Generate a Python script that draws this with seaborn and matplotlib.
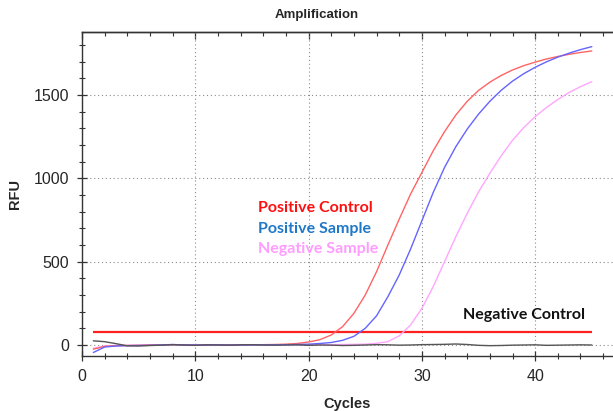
import numpy as np
import pandas as pd
import matplotlib
matplotlib.use('Agg')
import matplotlib.pyplot as plt
from matplotlib.ticker import MultipleLocator
import seaborn as sns

# Cycle numbers and RFU values
cycles = list(range(1, 46))

positive_control = [-25, -8, -4, -3, -2, 0, 0, 2, 0, 0,
                    0, 1, 0, 0, 1, 2, 3, 5, 9, 18,
                    32, 60, 110, 190, 300, 440, 600, 755, 905, 1035,
                    1165, 1280, 1380, 1462, 1527, 1577, 1617, 1650, 1676, 1697,
                    1716, 1731, 1744, 1755, 1764]

positive_sample = [-45, -12, -6, -4, -3, -2, 0, 3, 0, 0,
                   0, 1, 0, 0, 0, 1, 1, 2, 3, 5,
                   9, 15, 28, 52, 100, 175, 290, 420, 575, 745,
                   915, 1065, 1190, 1295, 1385, 1462, 1528, 1583, 1628, 1666,
                   1699, 1727, 1751, 1772, 1790]

negative_sample = [-20, -6, -3, -2, -1, 0, 0, 1, 0, 0,
                   0, 0, 0, 0, 0, 0, 0, 1, 1, 1,
                   2, 2, 3, 4, 5, 10, 20, 55, 120, 220,
                   350, 500, 650, 790, 918, 1030, 1135, 1228, 1305, 1370,
                   1425, 1473, 1515, 1550, 1580]

negative_control = [25, 20, 8, -5, -6, -3, -1, 2, 0, -2,
                    1, 0, -1, 1, 2, 0, -1, 0, 1, -2,
                    0, -1, -3, -2, 0, 2, 1, -1, 0, 2,
                    3, 4, 6, 3, -2, -4, -3, -1, 0, 1,
                    -2, -1, 0, 1, 0]

threshold = 80

df = pd.DataFrame({
    'Cycle': cycles,
    'Negative Sample': negative_sample,
    'Positive Control': positive_control,
    'Positive Sample': positive_sample,
    'Negative Control': negative_control,
})
long_df = df.melt(id_vars='Cycle', var_name='Well', value_name='RFU')

palette = {
    'Negative Sample': '#ffa6ff',
    'Positive Control': '#ff6464',
    'Positive Sample': '#6464ff',
    'Negative Control': '#555555',
}

sns.set_style('ticks')
plt.rcParams['font.family'] = ['Liberation Sans', 'DejaVu Sans']

fig = plt.figure(figsize=(6.13, 4.11), dpi=100)
ax = fig.add_axes([82 / 613, 55 / 411, 1 - 82 / 613, (356 - 32.3) / 411])

sns.lineplot(data=long_df, x='Cycle', y='RFU', hue='Well', palette=palette,
             linewidth=1.0, legend=False, ax=ax)

# threshold line
ax.hlines(threshold, cycles[0], cycles[-1], color='#ff2020', linewidth=1.6, zorder=1)

ax.set_xlim(0, 46.87)
ax.set_ylim(-66, 1876)
ax.xaxis.set_major_locator(MultipleLocator(10))
ax.xaxis.set_minor_locator(MultipleLocator(2))
ax.yaxis.set_major_locator(MultipleLocator(500))
ax.yaxis.set_minor_locator(MultipleLocator(100))

ax.grid(True, which='major', color='#8c8c8c', linestyle=(0, (1, 2.5)), linewidth=0.8)
ax.set_axisbelow(True)

ax.spines['right'].set_visible(False)
for s in ['left', 'bottom', 'top']:
    ax.spines[s].set_linewidth(1.0)
    ax.spines[s].set_color('#333333')

ax.tick_params(axis='both', which='major', direction='inout', length=7, width=0.9,
               labelsize=11.5, pad=6, color='#333333')
ax.tick_params(axis='both', which='minor', direction='inout', length=4.5, width=0.8,
               color='#333333')

# inward ticks along the top edge
top = ax.secondary_xaxis('top')
top.xaxis.set_major_locator(MultipleLocator(10))
top.xaxis.set_minor_locator(MultipleLocator(2))
top.tick_params(which='major', direction='in', length=5, width=0.9, color='#333333',
                labeltop=False)
top.tick_params(which='minor', direction='in', length=3, width=0.8, color='#333333')
top.spines['top'].set_linewidth(1.0)
top.spines['top'].set_color('#333333')

ax.set_xlabel('Cycles', fontsize=10.5, fontweight='bold', labelpad=9)
ax.set_ylabel('RFU', fontsize=10.5, fontweight='bold', labelpad=8)

fig.text(317 / 613, 1 - 15 / 411, 'Amplification', ha='center', va='center',
         fontsize=9.5, fontweight='bold')

lab_font = ['Lato', 'DejaVu Sans']
ax.text(15.5, 798, 'Positive Control', color='#ff1010', fontsize=11.5,
        fontweight='bold', family=lab_font, va='baseline')
ax.text(15.5, 672, 'Positive Sample', color='#1f78c8', fontsize=11.5,
        fontweight='bold', family=lab_font, va='baseline')
ax.text(15.5, 552, 'Negative Sample', color='#ff9cff', fontsize=11.5,
        fontweight='bold', family=lab_font, va='baseline')
ax.text(33.6, 154, 'Negative Control', color='#111111', fontsize=11.5,
        fontweight='bold', family=lab_font, va='baseline')

fig.savefig('out.png', dpi=100)
